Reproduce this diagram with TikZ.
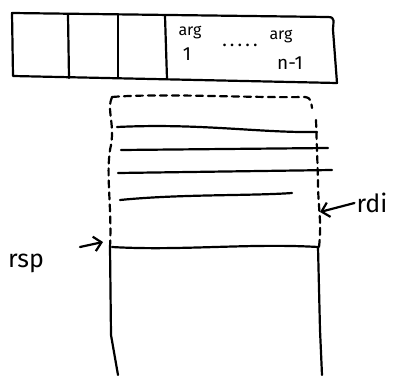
\documentclass[tikz,border=0pt]{standalone}
\usepackage{fontspec}
\setmainfont{Fira Sans}
\usetikzlibrary{arrows.meta}

\begin{document}
\begin{tikzpicture}[x=1pt, y=-1pt, >={Straight Barb[length=2.6mm]}, line width=2.2pt,
    line cap=round, line join=round,
    small/.style={inner sep=0pt, font=\fontsize{16}{16}\selectfont},
    index/.style={inner sep=0pt, font=\fontsize{19}{19}\selectfont},
    big/.style={inner sep=1pt, font=\fontsize{25}{25}\selectfont},
    hole/.style={dash pattern=on 7pt off 5pt}]
  \useasboundingbox (0,0) rectangle (393,375);
  % registros de argumentos
  \draw (12,13) -- (328,17) .. controls (336,17) and (333,22) .. (333,30)
    -- (337,83) -- (13,76) -- cycle;
  \draw (68,15) -- (69,78); \draw (118,15) -- (118,78); \draw (165,16) -- (167,79);
  \node[small] (argA) at (190,33) {arg};
  \node[index] (argAi) at (187,54) {1};
  \node[index] (dots) at (240,45) {.\,.\,.\,.\,.};
  \node[small] (argB) at (281,37) {arg};
  \node[index] (argBi) at (290,63) {n-1};
  % pila (parte sin usar, punteada)
  \draw[hole] (112,97) .. controls (160,93) and (250,98) .. (305,97)
    .. controls (312,98) and (311,103) .. (312,108);
  \draw[hole] (112,97) .. controls (106,110) and (116,125) .. (110,150)
    .. controls (106,175) and (112,210) .. (110,247);
  \draw[hole] (316,120) -- (318,180) .. controls (318,210) and (322,220) .. (319,247);
  % marcos de la pila
  \draw (117,127) .. controls (200,123) and (260,133) .. (317,132);
  \draw (121,150) -- (328,148);
  \draw (118,173) -- (332,170);
  \draw (120,200) .. controls (180,194) and (250,196) .. (292,193);
  \draw (112,247) .. controls (180,251) and (250,243) .. (318,247);
  % parte usada de la pila
  \draw (110,247) -- (111,335) -- (118,375);
  \draw (318,247) -- (320,330) -- (322,375);
  % punteros
  \node[big] (rsp) at (26,263) {rsp};
  \coordinate (rspTail) at (80,247);
  \coordinate (rspTip) at (103,242);
  \draw[->] (rspTail) -- (rspTip);
  \node[big] (rdi) at (372,203) {rdi};
  \coordinate (rdiTip) at (320,212);
  \draw[->] (rdi.west) -- (rdiTip);
\end{tikzpicture}
\end{document}
